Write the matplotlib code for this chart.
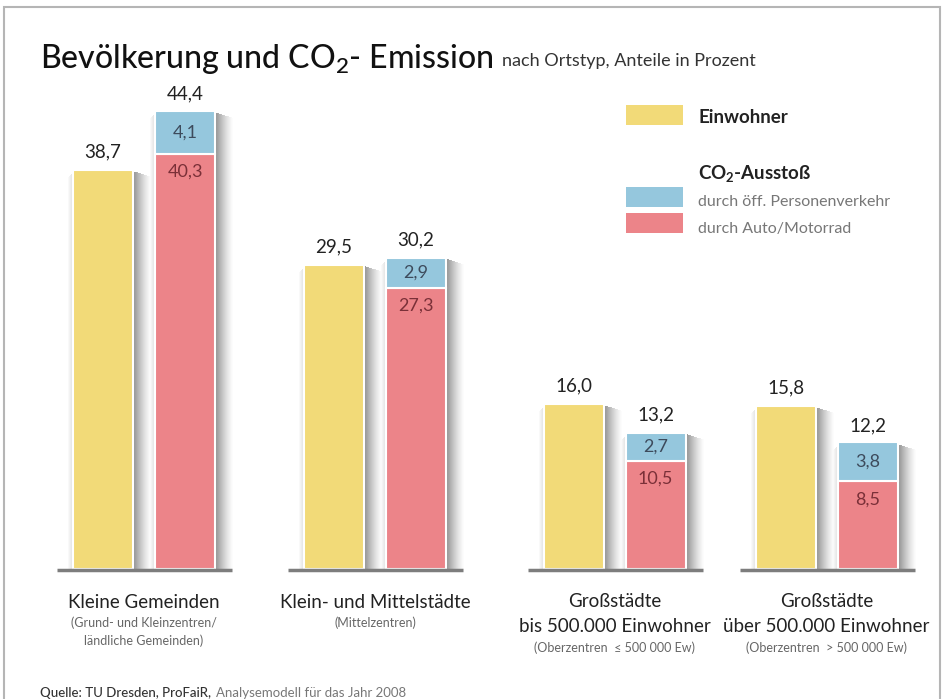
import matplotlib.pyplot as plt
from matplotlib.patches import Rectangle
import numpy as np

# data
categories = ["Kleine Gemeinden", "Klein- und Mittelstädte",
              "Großstädte\nbis 500.000 Einwohner", "Großstädte\nüber 500.000 Einwohner"]
subtexts = ["(Grund- und Kleinzentren/\nländliche Gemeinden)", "(Mittelzentren)",
            "(Oberzentren  ≤ 500 000 Ew)", "(Oberzentren  > 500 000 Ew)"]
einwohner = [38.7, 29.5, 16.0, 15.8]
auto = [40.3, 27.3, 10.5, 8.5]
oepnv = [4.1, 2.9, 2.7, 3.8]
co2_total = [44.4, 30.2, 13.2, 12.2]

YELLOW = "#f2da78"
BLUE = "#95c7dd"
PINK = "#ec8489"

plt.rcParams["font.family"] = ["Lato", "DejaVu Sans"]
plt.rcParams["mathtext.fontset"] = "custom"
plt.rcParams["mathtext.rm"] = "Lato:medium"
plt.rcParams["mathtext.bf"] = "Lato:bold"

W, H = 946, 699
fig = plt.figure(figsize=(W / 100, H / 100), dpi=100)


def fx(x):
    return x / W


def fy(y):
    return 1 - y / H


# plotting area: baseline at y=569 px, 10.31 px per percent
base = 569
scale = 10.31
ax = fig.add_axes([0, fy(base), 1, base / H])
ax.set_xlim(0, W)
ax.set_ylim(0, base / scale)
ax.axis("off")

centers = np.array([144, 375, 614.5, 826.5])
off = 41
bw = 60
xe = centers - off
xc = centers + off

# soft shadow around every bar (stronger on the right)
n = 17
for k in range(n):
    d = 0.40 * (1 - k / n) ** 1.3
    col = (1 - d, 1 - d, 1 - d)
    for xs, hs in ((xe, einwohner), (xc, co2_total)):
        ax.bar(xs + bw / 2 + 1 + k + 0.5, np.array(hs) - 0.15 - 0.03 * k, width=1.0,
               color=col, linewidth=0, zorder=1)
for k in range(5):
    d = 0.12 * (1 - k / 5)
    col = (1 - d, 1 - d, 1 - d)
    for xs, hs in ((xe, einwohner), (xc, co2_total)):
        ax.bar(xs - bw / 2 - k - 0.5, np.array(hs) - 0.3 - 0.1 * k, width=1.0,
               color=col, linewidth=0, zorder=1)

ax.bar(xe, einwohner, width=bw, color=YELLOW, edgecolor="white", linewidth=1.5, zorder=3)
ax.bar(xc, auto, width=bw, color=PINK, edgecolor="white", linewidth=1.5, zorder=3)
ax.bar(xc, oepnv, bottom=auto, width=bw, color=BLUE, edgecolor="white", linewidth=1.5, zorder=3)

# baselines
for c in centers:
    ax.plot([c - 87, c + 88], [-0.12, -0.12], color="#7d7d7d", lw=2.5,
            solid_capstyle="butt", zorder=4, clip_on=False)


def fmt(v):
    return f"{v:.1f}".replace(".", ",")


# value labels
for i in range(4):
    ax.text(xe[i], einwohner[i] + 0.9, fmt(einwohner[i]),
            ha="center", va="bottom", fontsize=13.5, color="#222222")
    ax.text(xc[i], co2_total[i] + 0.9, fmt(co2_total[i]),
            ha="center", va="bottom", fontsize=13.5, color="#222222")
    ax.text(xc[i], auto[i] + oepnv[i] / 2, fmt(oepnv[i]),
            ha="center", va="center", fontsize=13, color="#3d4b5c", zorder=5)
    ax.text(xc[i], auto[i] - 1.75, fmt(auto[i]),
            ha="center", va="center", fontsize=13, color="#7a3038", zorder=5)

# category labels
for i in range(4):
    lines = categories[i].split("\n")
    if len(lines) == 1:
        fig.text(fx(centers[i]), fy(608), lines[0], ha="center", va="baseline",
                 fontsize=13.5, color="#222222")
        y = 627
    else:
        fig.text(fx(centers[i]), fy(607), lines[0], ha="center", va="baseline",
                 fontsize=13.5, color="#222222")
        fig.text(fx(centers[i]), fy(632), lines[1], ha="center", va="baseline",
                 fontsize=13.5, color="#222222")
        y = 652
    for s in subtexts[i].split("\n"):
        fig.text(fx(centers[i]), fy(y), s, ha="center", va="baseline",
                 fontsize=9, color="#666666")
        y += 18

# title
title = fig.text(fx(40), fy(68), r"Bevölkerung und CO$_\mathrm{2}$- Emission", ha="left",
                 va="baseline", fontsize=23, fontweight="medium", color="#111111")
fig.canvas.draw()
tb = title.get_window_extent()
fig.text((tb.x1 + 9) / W, fy(66), "nach Ortstyp, Anteile in Prozent", ha="left",
         va="baseline", fontsize=13, color="#333333")

# legend
fig.patches.append(Rectangle((fx(626), fy(125)), fx(57), 20 / H, transform=fig.transFigure,
                             facecolor=YELLOW, edgecolor="none"))
fig.text(fx(698), fy(123), "Einwohner", ha="left", va="baseline", fontsize=13.5,
         fontweight="bold", color="#222222")
fig.text(fx(698), fy(180), r"CO$_\mathbf{2}$-Ausstoß", ha="left", va="baseline", fontsize=13.5,
         fontweight="bold", color="#222222")
fig.patches.append(Rectangle((fx(626), fy(207)), fx(57), 20 / H, transform=fig.transFigure,
                             facecolor=BLUE, edgecolor="none"))
fig.text(fx(698), fy(206), "durch öff. Personenverkehr", ha="left", va="baseline",
         fontsize=11.5, color="#777777")
fig.patches.append(Rectangle((fx(626), fy(233)), fx(57), 20 / H, transform=fig.transFigure,
                             facecolor=PINK, edgecolor="none"))
fig.text(fx(698), fy(233), "durch Auto/Motorrad", ha="left", va="baseline",
         fontsize=11.5, color="#777777")

# source
src1 = fig.text(fx(40), fy(697), "Quelle: TU Dresden, ProFaiR,", ha="left", va="baseline",
                fontsize=9.5, fontweight="medium", color="#333333")
fig.canvas.draw()
bb = src1.get_window_extent()
fig.text((bb.x1 + 5) / W, fy(697), "Analysemodell für das Jahr 2008", ha="left",
         va="baseline", fontsize=9.5, color="#777777")

# frame
fig.patches.append(Rectangle((fx(4), -0.05), fx(936), fy(7) + 0.05, transform=fig.transFigure,
                             facecolor="none", edgecolor="#b5b5b5", linewidth=1.5))

fig.savefig("out.png", dpi=100)
